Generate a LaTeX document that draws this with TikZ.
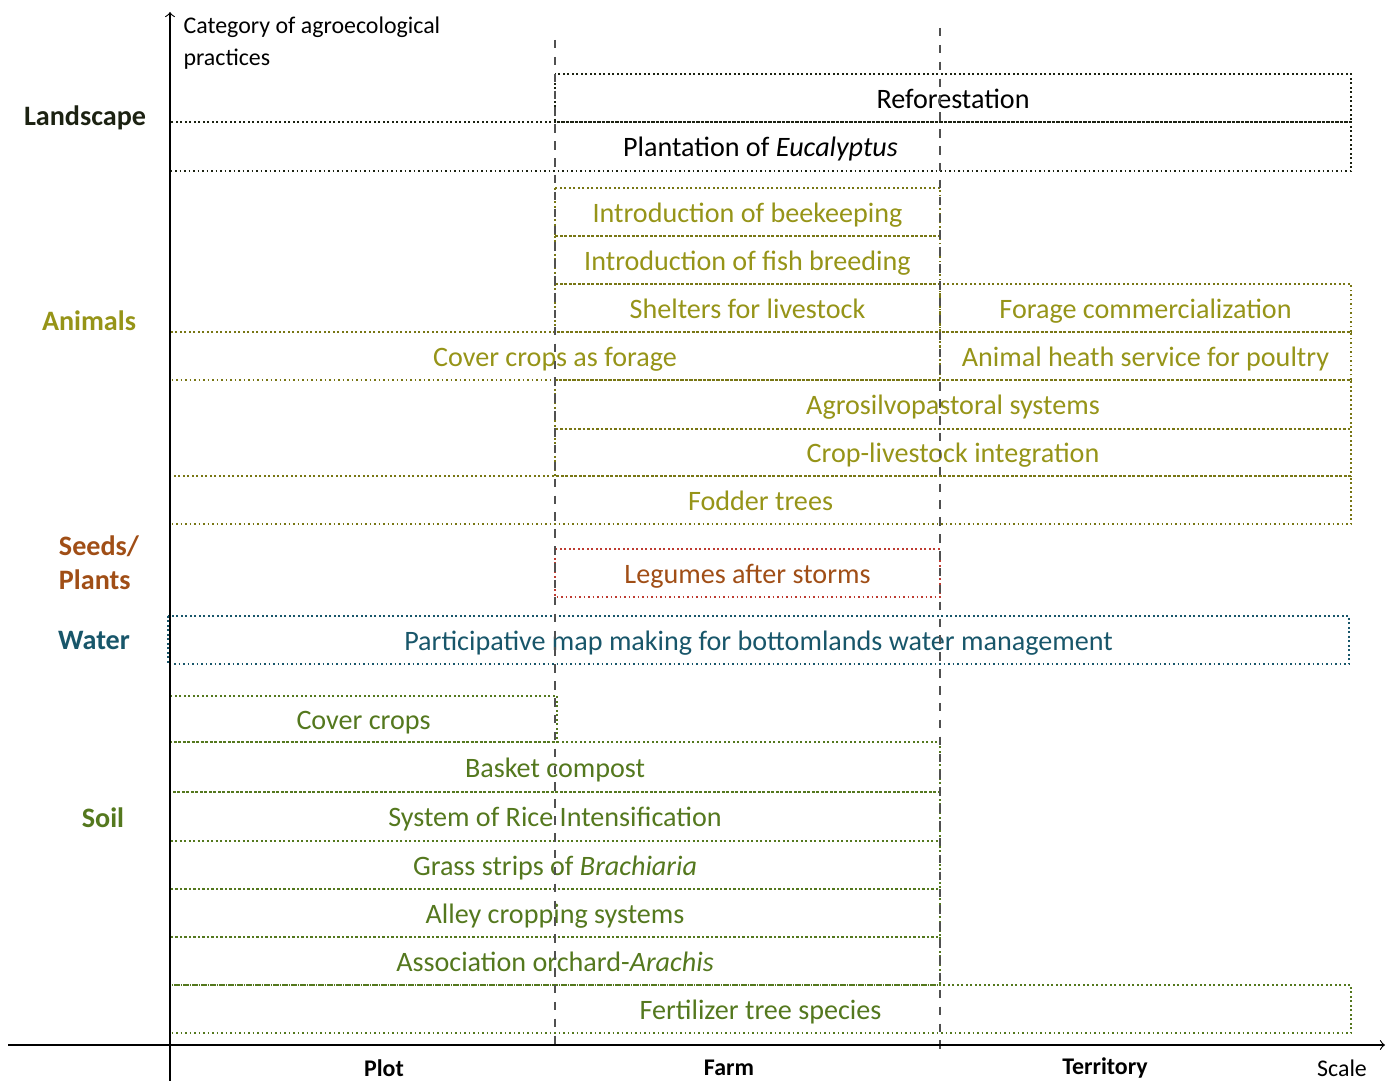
\documentclass[tikz,border=0pt]{standalone}
\usepackage{fontspec}
\setmainfont{Carlito}
\definecolor{landc}{RGB}{28,34,18}
\definecolor{animc}{RGB}{150,148,24}
\definecolor{animb}{RGB}{120,118,20}
\definecolor{seedc}{RGB}{160,78,22}
\definecolor{seedb}{RGB}{190,60,50}
\definecolor{waterc}{RGB}{24,86,106}
\definecolor{soilc}{RGB}{84,120,30}
\definecolor{scalec}{RGB}{80,80,80}
\begin{document}
\begin{tikzpicture}[x=0.0125cm, y=-0.0125cm,
prac/.style={draw=#1, densely dotted, line width=0.6pt},
lbl/.style={text=#1, font=\fontsize{10}{12}\selectfont, text height=7pt, text depth=2.2pt, yshift=-1.3pt},
cat/.style={text=#1, font=\bfseries\fontsize{10}{12}\selectfont, align=left},
scal/.style={font=\bfseries\fontsize{8.5}{10}\selectfont}
]
\useasboundingbox (0,0) rectangle (1392,1081);

% landscape
\draw[prac=landc] (555,74) rectangle (1351,122) node[midway, lbl=black] (refor) {Reforestation};
\draw[prac=landc] (170,122) rectangle (1351,171) node[midway, lbl=black] (euca) {Plantation of \textit{Eucalyptus}};

% animals
\draw[prac=animb] (555,188) rectangle (940,236) node[midway, lbl=animc] (bee) {Introduction of beekeeping};
\draw[prac=animb] (555,236) rectangle (940,284) node[midway, lbl=animc] (fish) {Introduction of fish breeding};
\draw[prac=animb] (555,284) rectangle (940,332) node[midway, lbl=animc] (shelt) {Shelters for livestock};
\draw[prac=animb] (940,284) rectangle (1351,332) node[midway, lbl=animc] (forcom) {Forage commercialization};
\draw[prac=animb] (170,332) rectangle (940,380) node[midway, lbl=animc] (covfor) {Cover crops as forage};
\draw[prac=animb] (940,332) rectangle (1351,380) node[midway, lbl=animc] (poult) {Animal heath service for poultry};
\draw[prac=animb] (555,380) rectangle (1351,429) node[midway, lbl=animc] (agrosil) {Agrosilvopastoral systems};
\draw[prac=animb] (555,429) rectangle (1351,476) node[midway, lbl=animc] (croliv) {Crop-livestock integration};
\draw[prac=animb] (170,476) rectangle (1351,524) node[midway, lbl=animc] (fodder) {Fodder trees};

% seeds, water
\draw[prac=seedb] (555,549) rectangle (940,597) node[midway, lbl=seedc] (legum) {Legumes after storms};
\draw[prac=waterc] (168,616) rectangle (1349,664) node[midway, lbl=waterc] (partmap) {Participative map making for bottomlands water management};

% soil
\draw[prac=soilc] (170,696) rectangle (557,742) node[midway, lbl=soilc] (covcr) {Cover crops};
\draw[prac=soilc] (170,742) rectangle (940,792) node[midway, lbl=soilc] (basket) {Basket compost};
\draw[prac=soilc] (170,792) rectangle (940,841) node[midway, lbl=soilc] (sri) {System of Rice Intensification};
\draw[prac=soilc] (170,841) rectangle (940,889) node[midway, lbl=soilc] (grass) {Grass strips of \textit{Brachiaria}};
\draw[prac=soilc] (170,889) rectangle (940,937) node[midway, lbl=soilc] (alley) {Alley cropping systems};
\draw[prac=soilc] (170,937) rectangle (940,985) node[midway, lbl=soilc] (orch) {Association orchard-\textit{Arachis}};
\draw[prac=soilc] (170,985) rectangle (1351,1033) node[midway, lbl=soilc] (fertil) {Fertilizer tree species};

% scale limits
\draw[dashed, scalec, line width=0.6pt] (555,40) -- (555,1050);
\draw[dashed, scalec, line width=0.6pt] (940,28) -- (940,1050);

% axes
\coordinate (ytop) at (170,12);
\coordinate (ybot) at (170,1081);
\coordinate (xleft) at (8,1045);
\coordinate (xright) at (1385,1045);
\draw[->] (ybot) -- (ytop);
\draw[->] (xleft) -- (xright);

\node[anchor=north west, align=left, inner sep=0pt, font=\fontsize{8.5}{11.5}\selectfont] (ycat) at (183,16) {Category of agroecological\\practices};
\node[cat=landc] (landsc) at (85,118) {Landscape};
\node[cat=animc] (anim) at (89,321) {Animals};
\node[cat=seedc] (seeds) at (99,563) {Seeds/\\Plants};
\node[cat=waterc] (water) at (94,640) {Water};
\node[cat=soilc] (soil) at (103,818) {Soil};

\node[scal] (plot) at (384,1068) {Plot};
\node[scal] (farm) at (729,1068) {Farm};
\node[scal] (terr) at (1105,1068) {Territory};
\node[font=\fontsize{8.5}{10}\selectfont] (scale) at (1342,1068) {Scale};

\end{tikzpicture}
\end{document}
